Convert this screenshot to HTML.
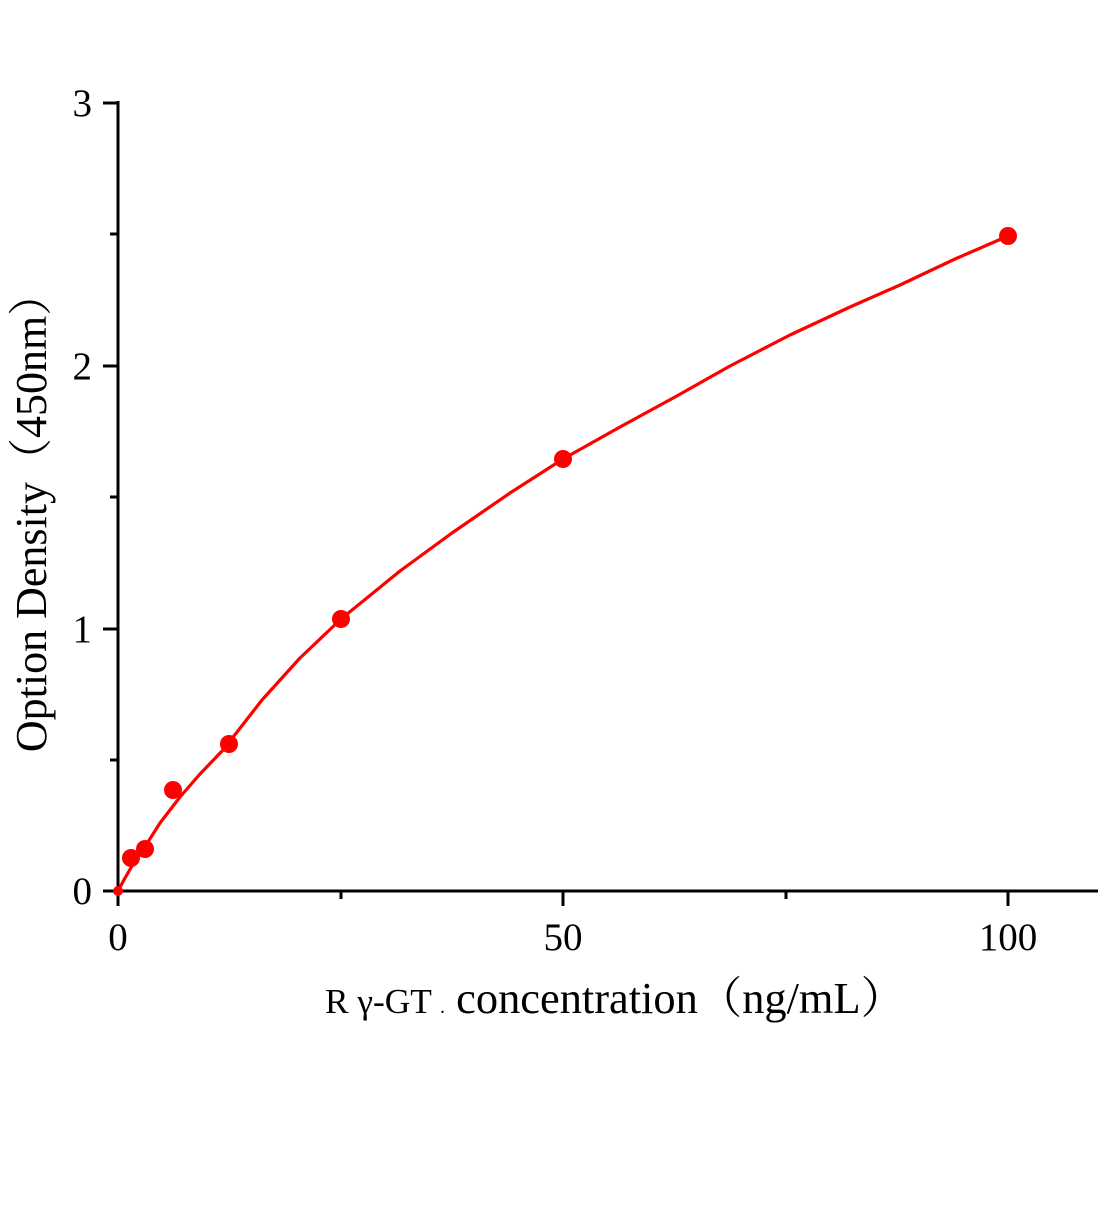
<!DOCTYPE html>
<html><head><meta charset="utf-8"><style>body{margin:0;background:#fff}</style></head>
<body>
<svg width="1104" height="1200" xmlns="http://www.w3.org/2000/svg" style="font-family:'Liberation Serif','Noto Serif CJK SC',serif">
<rect width="1104" height="1200" fill="#fff"/>
<g stroke="#000" stroke-width="3" fill="none">
<line x1="118" y1="101" x2="118" y2="892"/>
<line x1="117" y1="891" x2="1098" y2="891"/>
<line x1="103" y1="103" x2="118" y2="103"/>
<line x1="103" y1="366" x2="118" y2="366"/>
<line x1="103" y1="629" x2="118" y2="629"/>
<line x1="103" y1="891" x2="118" y2="891"/>
<line x1="110" y1="234" x2="118" y2="234"/>
<line x1="110" y1="497" x2="118" y2="497"/>
<line x1="110" y1="760" x2="118" y2="760"/>
<line x1="118" y1="891" x2="118" y2="906"/>
<line x1="563" y1="891" x2="563" y2="906"/>
<line x1="1008" y1="891" x2="1008" y2="906"/>
<line x1="341" y1="891" x2="341" y2="899"/>
<line x1="786" y1="891" x2="786" y2="899"/>
</g>
<g font-size="39" text-anchor="end" fill="#000">
<text x="92" y="116">3</text>
<text x="92" y="379">2</text>
<text x="92" y="642">1</text>
<text x="92" y="904">0</text>
</g>
<g font-size="39" text-anchor="middle" fill="#000">
<text x="118" y="950">0</text>
<text x="563" y="950">50</text>
<text x="1008" y="950">100</text>
</g>
<text x="325" y="1013" font-size="44" fill="#000" textLength="580" lengthAdjust="spacingAndGlyphs"><tspan font-size="35">R γ-GT </tspan><tspan font-size="20">.</tspan> concentration（ng/mL）</text>
<text transform="translate(46,512) rotate(-90)" font-size="44" text-anchor="middle" fill="#000">Option Density（450nm）</text>
<path d="M118,891 L125,878 L132,866 L146,845 L160,823 L180,797 L200,774 L223,750 L262,700 L300,658 L341,619 L400,571 L452,533 L510,493 L563,459 L620,427 L675,397 L730,366 L790,335 L850,307 L900,285 L955,259 L1008,236" stroke="#f00" stroke-width="3.2" fill="none" stroke-linejoin="round"/>
<g fill="#f00">
<circle cx="118" cy="891" r="5"/>
<circle cx="131" cy="858" r="9"/>
<circle cx="145" cy="849" r="9"/>
<circle cx="173" cy="790" r="9"/>
<circle cx="229" cy="744" r="9"/>
<circle cx="341" cy="619" r="9"/>
<circle cx="563" cy="459" r="9"/>
<circle cx="1008" cy="236" r="9"/>
</g>
</svg>
</body></html>
